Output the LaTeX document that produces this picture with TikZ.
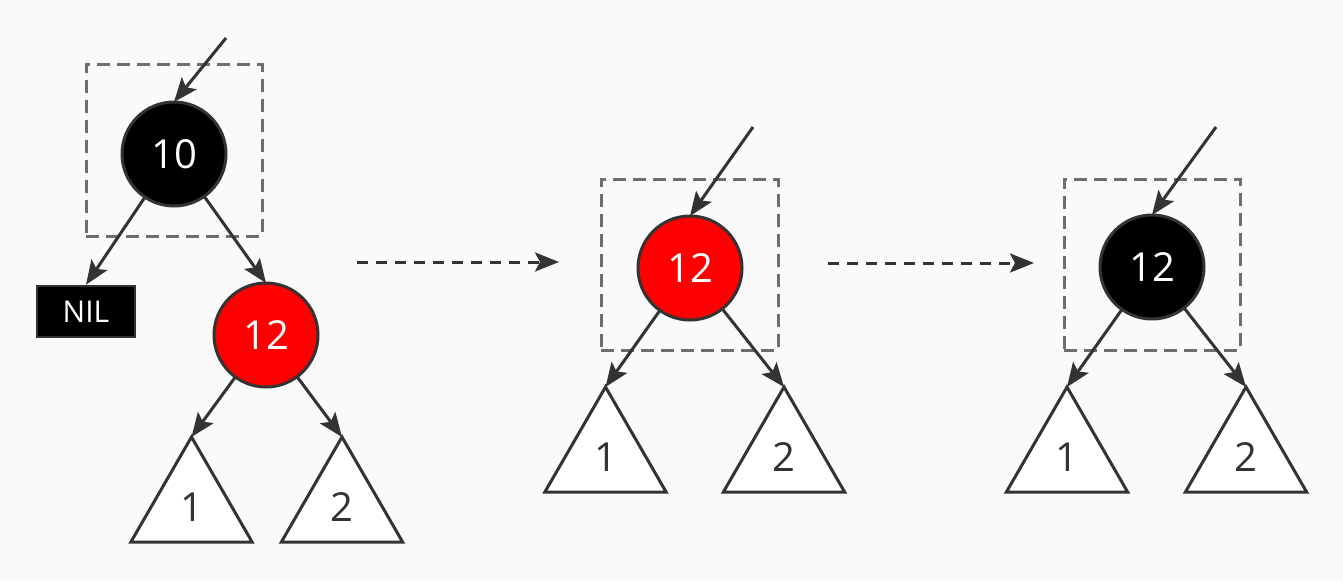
\documentclass[tikz,border=0pt]{standalone}
\usepackage{fontspec}
\setmainfont{Open Sans}
\usetikzlibrary{arrows.meta,shapes.geometric}
\definecolor{bg}{RGB}{250,250,250}
\definecolor{ln}{RGB}{51,51,51}
\definecolor{dg}{RGB}{110,110,110}
\definecolor{rd}{RGB}{255,0,0}
\begin{document}
\begin{tikzpicture}[x=1pt,y=-1pt,
  arr/.style={draw=ln,line width=3pt,-{Stealth[length=24pt,width=19pt,inset=5pt]}},
  darr/.style={arr,dash pattern=on 11pt off 8pt},
  rbnode/.style={circle,draw=ln,line width=3pt,minimum size=104pt,inner sep=0pt,outer sep=0pt,text=white,font=\fontsize{40}{44}\selectfont},
  blk/.style={rbnode,fill=black},
  red/.style={rbnode,fill=rd},
  tri/.style={regular polygon,regular polygon sides=3,draw=ln,fill=white,line width=3pt,minimum size=140pt,inner sep=0pt,outer sep=0pt,text=ln,font=\fontsize{40}{44}\selectfont},
  dbox/.style={draw=dg,line width=3pt,dash pattern=on 13pt off 7pt,inner sep=0pt,outer sep=0pt},
  nilbox/.style={draw=ln,line width=2.5pt,fill=black,text=white,minimum width=98pt,minimum height=51pt,inner sep=0pt,font=\fontsize{30}{34}\selectfont}
]
\useasboundingbox[fill=bg] (0,0) rectangle (1343,581);

% ---- left tree
\node[dbox,minimum width=176pt,minimum height=172pt] (b1) at (174,150) {};
\node[blk] (a10) at (174,154) {10};
\node[nilbox] (nil) at (86,311.5) {NIL};
\node[red] (a12) at (266,335) {12};
\node[tri] (at1) at (191.5,507) {1};
\node[tri] (at2) at (342,507) {2};
\coordinate (ain) at (226,38);
\draw[arr] (ain) -- (a10.north);
\draw[arr] (a10) -- (nil.north);
\draw[arr] (a10) -- (a12.north);
\draw[arr] (a12) -- (at1.corner 1);
\draw[arr] (a12) -- (at2.corner 1);

% ---- transition arrows
\coordinate (s1) at (357,262);
\coordinate (e1) at (559,262);
\draw[darr] (s1) -- (e1);
\coordinate (s2) at (828,263);
\coordinate (e2) at (1034,263);
\draw[darr] (s2) -- (e2);

% ---- middle tree
\node[dbox,minimum width=177pt,minimum height=171pt] (b2) at (689.5,264.5) {};
\node[red] (m12) at (690,268) {12};
\node[tri] (mt1) at (605.5,457) {1};
\node[tri] (mt2) at (784,457) {2};
\coordinate (min) at (753,127);
\draw[arr] (min) -- (m12.north);
\draw[arr] (m12) -- (mt1.corner 1);
\draw[arr] (m12) -- (mt2.corner 1);

% ---- right tree
\node[dbox,minimum width=176pt,minimum height=171pt] (b3) at (1152,264.5) {};
\node[blk] (r12) at (1152,267) {12};
\node[tri] (rt1) at (1067,457) {1};
\node[tri] (rt2) at (1246,457) {2};
\coordinate (rin) at (1216,127);
\draw[arr] (rin) -- (r12.north);
\draw[arr] (r12) -- (rt1.corner 1);
\draw[arr] (r12) -- (rt2.corner 1);
\end{tikzpicture}
\end{document}
